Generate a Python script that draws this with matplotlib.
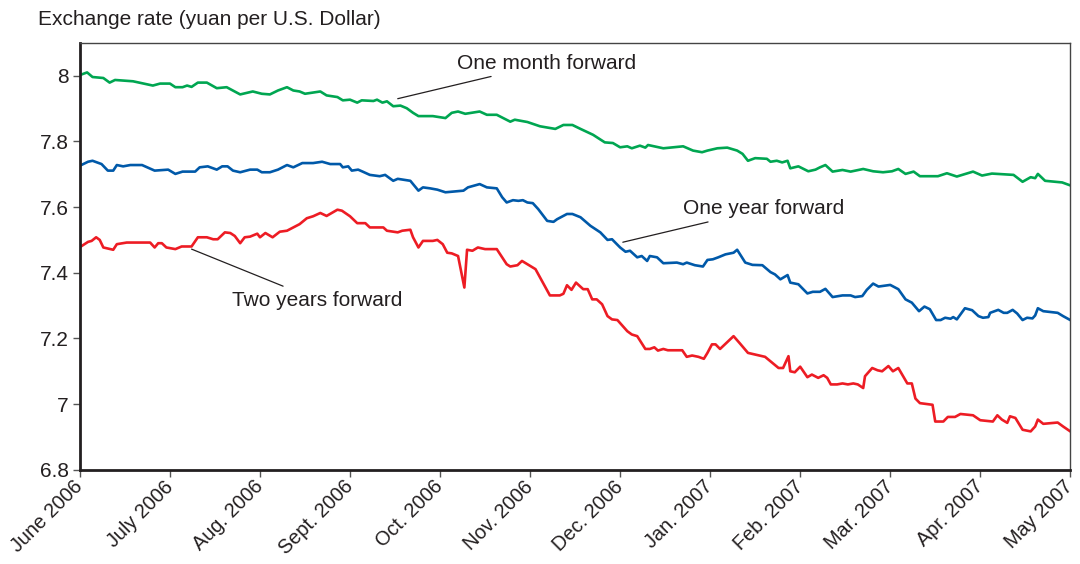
import matplotlib.pyplot as plt

plt.rcParams['font.family'] = ['Liberation Sans', 'DejaVu Sans']

# month labels (equally spaced, one per month)
months = ['June 2006', 'July 2006', 'Aug. 2006', 'Sept. 2006', 'Oct. 2006', 'Nov. 2006',
          'Dec. 2006', 'Jan. 2007', 'Feb. 2007', 'Mar. 2007', 'Apr. 2007', 'May 2007']

# one month forward (x in months since June 2006)
month_x = [0.0, 0.08, 0.14, 0.26, 0.33, 0.39, 0.59, 0.81, 0.89, 1.00, 1.06, 1.14, 1.19, 1.24,
           1.31, 1.41, 1.52, 1.63, 1.78, 1.92, 2.02, 2.11, 2.20, 2.30, 2.37, 2.44, 2.50, 2.67,
           2.74, 2.86, 2.92, 3.00, 3.08, 3.13, 3.26, 3.30, 3.36, 3.41, 3.48, 3.56, 3.63, 3.70,
           3.76, 3.92, 4.06, 4.13, 4.20, 4.28, 4.44, 4.52, 4.63, 4.78, 4.83, 4.97, 5.11, 5.28,
           5.37, 5.47, 5.56, 5.70, 5.83, 5.92, 6.00, 6.08, 6.13, 6.22, 6.28, 6.31, 6.48, 6.70,
           6.81, 6.91, 6.97, 7.08, 7.19, 7.30, 7.36, 7.42, 7.50, 7.63, 7.67, 7.74, 7.80, 7.86,
           7.89, 7.98, 8.09, 8.17, 8.22, 8.28, 8.36, 8.47, 8.56, 8.70, 8.81, 8.92, 9.02, 9.09,
           9.17, 9.26, 9.33, 9.53, 9.63, 9.74, 9.86, 9.92, 10.02, 10.13, 10.37, 10.47, 10.56,
           10.61, 10.64, 10.72, 10.91, 11.0]
month_y = [8.002, 8.01, 7.996, 7.993, 7.979, 7.987, 7.983, 7.97, 7.976, 7.976, 7.965, 7.965,
           7.97, 7.966, 7.979, 7.979, 7.962, 7.965, 7.943, 7.952, 7.945, 7.943, 7.955, 7.965,
           7.955, 7.952, 7.945, 7.952, 7.94, 7.935, 7.925, 7.927, 7.918, 7.925, 7.923, 7.927,
           7.918, 7.922, 7.907, 7.909, 7.901, 7.887, 7.877, 7.877, 7.871, 7.887, 7.891, 7.884,
           7.891, 7.881, 7.881, 7.86, 7.866, 7.859, 7.846, 7.838, 7.85, 7.85, 7.838, 7.82, 7.797,
           7.795, 7.782, 7.785, 7.779, 7.787, 7.781, 7.789, 7.779, 7.785, 7.772, 7.767, 7.772,
           7.779, 7.781, 7.772, 7.762, 7.741, 7.749, 7.747, 7.738, 7.741, 7.736, 7.741, 7.718,
           7.724, 7.709, 7.714, 7.721, 7.728, 7.708, 7.713, 7.708, 7.716, 7.709, 7.706, 7.709,
           7.716, 7.701, 7.708, 7.694, 7.694, 7.703, 7.693, 7.703, 7.708, 7.696, 7.702, 7.698,
           7.677, 7.691, 7.688, 7.701, 7.68, 7.675, 7.666]

# one year forward
year_x = [0.0, 0.09, 0.14, 0.24, 0.31, 0.37, 0.41, 0.48, 0.56, 0.69, 0.83, 0.98, 1.06, 1.14,
          1.28, 1.33, 1.42, 1.52, 1.58, 1.64, 1.70, 1.78, 1.89, 1.97, 2.02, 2.11, 2.20, 2.30,
          2.37, 2.47, 2.59, 2.69, 2.78, 2.89, 2.92, 2.98, 3.02, 3.09, 3.14, 3.22, 3.33, 3.39,
          3.48, 3.53, 3.67, 3.76, 3.81, 3.89, 3.97, 4.06, 4.26, 4.31, 4.44, 4.52, 4.63, 4.69,
          4.74, 4.81, 4.87, 4.92, 4.97, 5.03, 5.09, 5.19, 5.26, 5.30, 5.41, 5.47, 5.56, 5.67,
          5.78, 5.86, 5.91, 6.00, 6.06, 6.11, 6.19, 6.24, 6.30, 6.33, 6.41, 6.48, 6.63, 6.70,
          6.74, 6.83, 6.92, 6.97, 7.03, 7.09, 7.17, 7.26, 7.30, 7.39, 7.47, 7.58, 7.67, 7.72,
          7.78, 7.86, 7.89, 7.98, 8.08, 8.14, 8.22, 8.28, 8.36, 8.47, 8.56, 8.61, 8.69, 8.74,
          8.81, 8.87, 9.00, 9.09, 9.17, 9.24, 9.32, 9.38, 9.44, 9.51, 9.56, 9.61, 9.67, 9.70,
          9.74, 9.83, 9.91, 9.98, 10.03, 10.09, 10.11, 10.20, 10.26, 10.30, 10.36, 10.41, 10.47,
          10.52, 10.58, 10.61, 10.64, 10.70, 10.76, 10.86, 10.92, 11.0]
year_y = [7.726, 7.738, 7.741, 7.731, 7.711, 7.711, 7.728, 7.724, 7.728, 7.728, 7.711, 7.714,
          7.701, 7.708, 7.708, 7.721, 7.724, 7.714, 7.724, 7.724, 7.711, 7.706, 7.714, 7.714,
          7.706, 7.706, 7.714, 7.728, 7.721, 7.734, 7.734, 7.738, 7.731, 7.731, 7.721, 7.724,
          7.711, 7.714, 7.708, 7.698, 7.694, 7.698, 7.68, 7.686, 7.68, 7.65, 7.66, 7.657, 7.653,
          7.645, 7.65, 7.66, 7.67, 7.66, 7.657, 7.63, 7.614, 7.621, 7.619, 7.621, 7.614, 7.612,
          7.594, 7.558, 7.555, 7.563, 7.579, 7.579, 7.569, 7.543, 7.523, 7.5, 7.502, 7.477,
          7.464, 7.467, 7.447, 7.451, 7.436, 7.451, 7.447, 7.429, 7.431, 7.426, 7.431, 7.423,
          7.419, 7.439, 7.441, 7.447, 7.456, 7.461, 7.47, 7.431, 7.424, 7.423, 7.402, 7.395,
          7.38, 7.393, 7.37, 7.365, 7.337, 7.342, 7.342, 7.351, 7.326, 7.331, 7.331, 7.326,
          7.329, 7.348, 7.367, 7.358, 7.363, 7.35, 7.319, 7.309, 7.283, 7.297, 7.289, 7.256,
          7.256, 7.263, 7.26, 7.265, 7.258, 7.292, 7.286, 7.268, 7.263, 7.265, 7.278, 7.287,
          7.278, 7.278, 7.287, 7.276, 7.256, 7.263, 7.261, 7.27, 7.292, 7.283, 7.281, 7.278,
          7.268, 7.256]

# two years forward
two_x = [0.0, 0.09, 0.13, 0.18, 0.22, 0.26, 0.37, 0.41, 0.52, 0.78, 0.83, 0.87, 0.91, 0.96,
         1.06, 1.13, 1.24, 1.31, 1.41, 1.48, 1.53, 1.61, 1.67, 1.72, 1.78, 1.83, 1.89, 1.97,
         2.00, 2.06, 2.14, 2.22, 2.30, 2.37, 2.44, 2.52, 2.59, 2.67, 2.74, 2.86, 2.91, 3.00,
         3.08, 3.17, 3.22, 3.37, 3.41, 3.53, 3.58, 3.67, 3.70, 3.76, 3.81, 3.92, 3.97, 4.03,
         4.08, 4.13, 4.20, 4.27, 4.30, 4.36, 4.42, 4.50, 4.63, 4.74, 4.78, 4.86, 4.91, 4.97,
         5.06, 5.22, 5.33, 5.37, 5.41, 5.46, 5.51, 5.59, 5.64, 5.69, 5.74, 5.80, 5.86, 5.91,
         5.97, 6.08, 6.13, 6.19, 6.28, 6.33, 6.38, 6.42, 6.48, 6.53, 6.69, 6.74, 6.80, 6.87,
         6.93, 6.97, 7.02, 7.06, 7.11, 7.19, 7.26, 7.33, 7.42, 7.50, 7.61, 7.69, 7.76, 7.81,
         7.87, 7.89, 7.94, 8.00, 8.08, 8.13, 8.20, 8.26, 8.30, 8.34, 8.41, 8.47, 8.53, 8.59,
         8.64, 8.70, 8.72, 8.80, 8.86, 8.91, 8.98, 9.03, 9.09, 9.19, 9.24, 9.28, 9.33, 9.47,
         9.50, 9.59, 9.64, 9.72, 9.78, 9.92, 10.00, 10.14, 10.19, 10.24, 10.30, 10.33, 10.39,
         10.47, 10.56, 10.61, 10.64, 10.70, 10.86, 10.92, 11.0]
two_y = [7.478, 7.494, 7.497, 7.508, 7.5, 7.477, 7.47, 7.487, 7.492, 7.492, 7.477, 7.49, 7.49,
         7.477, 7.472, 7.48, 7.48, 7.508, 7.508, 7.502, 7.502, 7.523, 7.521, 7.512, 7.49, 7.508,
         7.51, 7.519, 7.508, 7.521, 7.508, 7.525, 7.528, 7.538, 7.548, 7.566, 7.572, 7.582,
         7.573, 7.592, 7.589, 7.572, 7.551, 7.551, 7.538, 7.538, 7.528, 7.523, 7.528, 7.531,
         7.508, 7.477, 7.497, 7.497, 7.5, 7.487, 7.461, 7.459, 7.451, 7.355, 7.47, 7.467, 7.477,
         7.472, 7.472, 7.426, 7.419, 7.423, 7.436, 7.426, 7.411, 7.331, 7.331, 7.336, 7.362,
         7.348, 7.37, 7.35, 7.35, 7.319, 7.319, 7.304, 7.268, 7.258, 7.256, 7.222, 7.212, 7.207,
         7.168, 7.168, 7.173, 7.163, 7.168, 7.164, 7.164, 7.144, 7.148, 7.144, 7.138, 7.156,
         7.182, 7.182, 7.168, 7.189, 7.207, 7.185, 7.156, 7.151, 7.144, 7.126, 7.11, 7.11, 7.146,
         7.1, 7.097, 7.114, 7.082, 7.09, 7.08, 7.088, 7.08, 7.06, 7.06, 7.063, 7.06, 7.063, 7.06,
         7.049, 7.085, 7.11, 7.103, 7.1, 7.116, 7.1, 7.11, 7.063, 7.063, 7.017, 7.003, 6.998,
         6.947, 6.947, 6.961, 6.961, 6.97, 6.966, 6.951, 6.947, 6.966, 6.953, 6.943, 6.963,
         6.958, 6.922, 6.917, 6.932, 6.953, 6.94, 6.944, 6.932, 6.917]

yticks = [6.8, 7.0, 7.2, 7.4, 7.6, 7.8, 8.0]
ytick_labels = ['6.8', '7', '7.2', '7.4', '7.6', '7.8', '8']

txt = '#231f20'
fs = 15

fig = plt.figure(figsize=(10.8, 5.64), dpi=100)
ax = fig.add_axes([0.074, 0.167, 0.917, 0.757])

ax.plot(month_x, month_y, color='#00a651', lw=1.9, solid_joinstyle='round')
ax.plot(year_x, year_y, color='#0059a9', lw=1.9, solid_joinstyle='round')
ax.plot(two_x, two_y, color='#ed1c24', lw=1.9, solid_joinstyle='round')

ax.set_xlim(0, 11)
ax.set_ylim(6.8, 8.1)
ax.set_xticks(range(len(months)))
ax.set_xticklabels(months, rotation=45, ha='right', va='center', rotation_mode='anchor',
                   fontsize=14.3, color=txt)
ax.set_yticks(yticks)
ax.set_yticklabels(ytick_labels, fontsize=fs, color=txt)
ax.tick_params(axis='both', direction='out', length=5, width=1, color='#555555', pad=3)
ax.tick_params(axis='x', pad=5)

for s in ['left', 'bottom']:
    ax.spines[s].set_linewidth(2)
    ax.spines[s].set_color(txt)
for s in ['top', 'right']:
    ax.spines[s].set_linewidth(1)
    ax.spines[s].set_color('#444444')

# labels with leader lines
ax.annotate('One month forward', xy=(3.53, 7.93), xytext=(4.19, 8.038),
            fontsize=fs, color=txt, va='center', ha='left',
            arrowprops=dict(arrowstyle='-', color=txt, lw=0.9, shrinkA=3, shrinkB=0))
ax.annotate('One year forward', xy=(6.03, 7.493), xytext=(6.70, 7.595),
            fontsize=fs, color=txt, va='center', ha='left',
            arrowprops=dict(arrowstyle='-', color=txt, lw=0.9, shrinkA=3, shrinkB=0))
ax.annotate('Two years forward', xy=(1.24, 7.472), xytext=(1.69, 7.317),
            fontsize=fs, color=txt, va='center', ha='left',
            arrowprops=dict(arrowstyle='-', color=txt, lw=0.9, shrinkA=3, shrinkB=0))

fig.text(0.035, 0.966, 'Exchange rate (yuan per U.S. Dollar)', fontsize=fs, color=txt,
         ha='left', va='center')

fig.savefig('out.png', dpi=100)
